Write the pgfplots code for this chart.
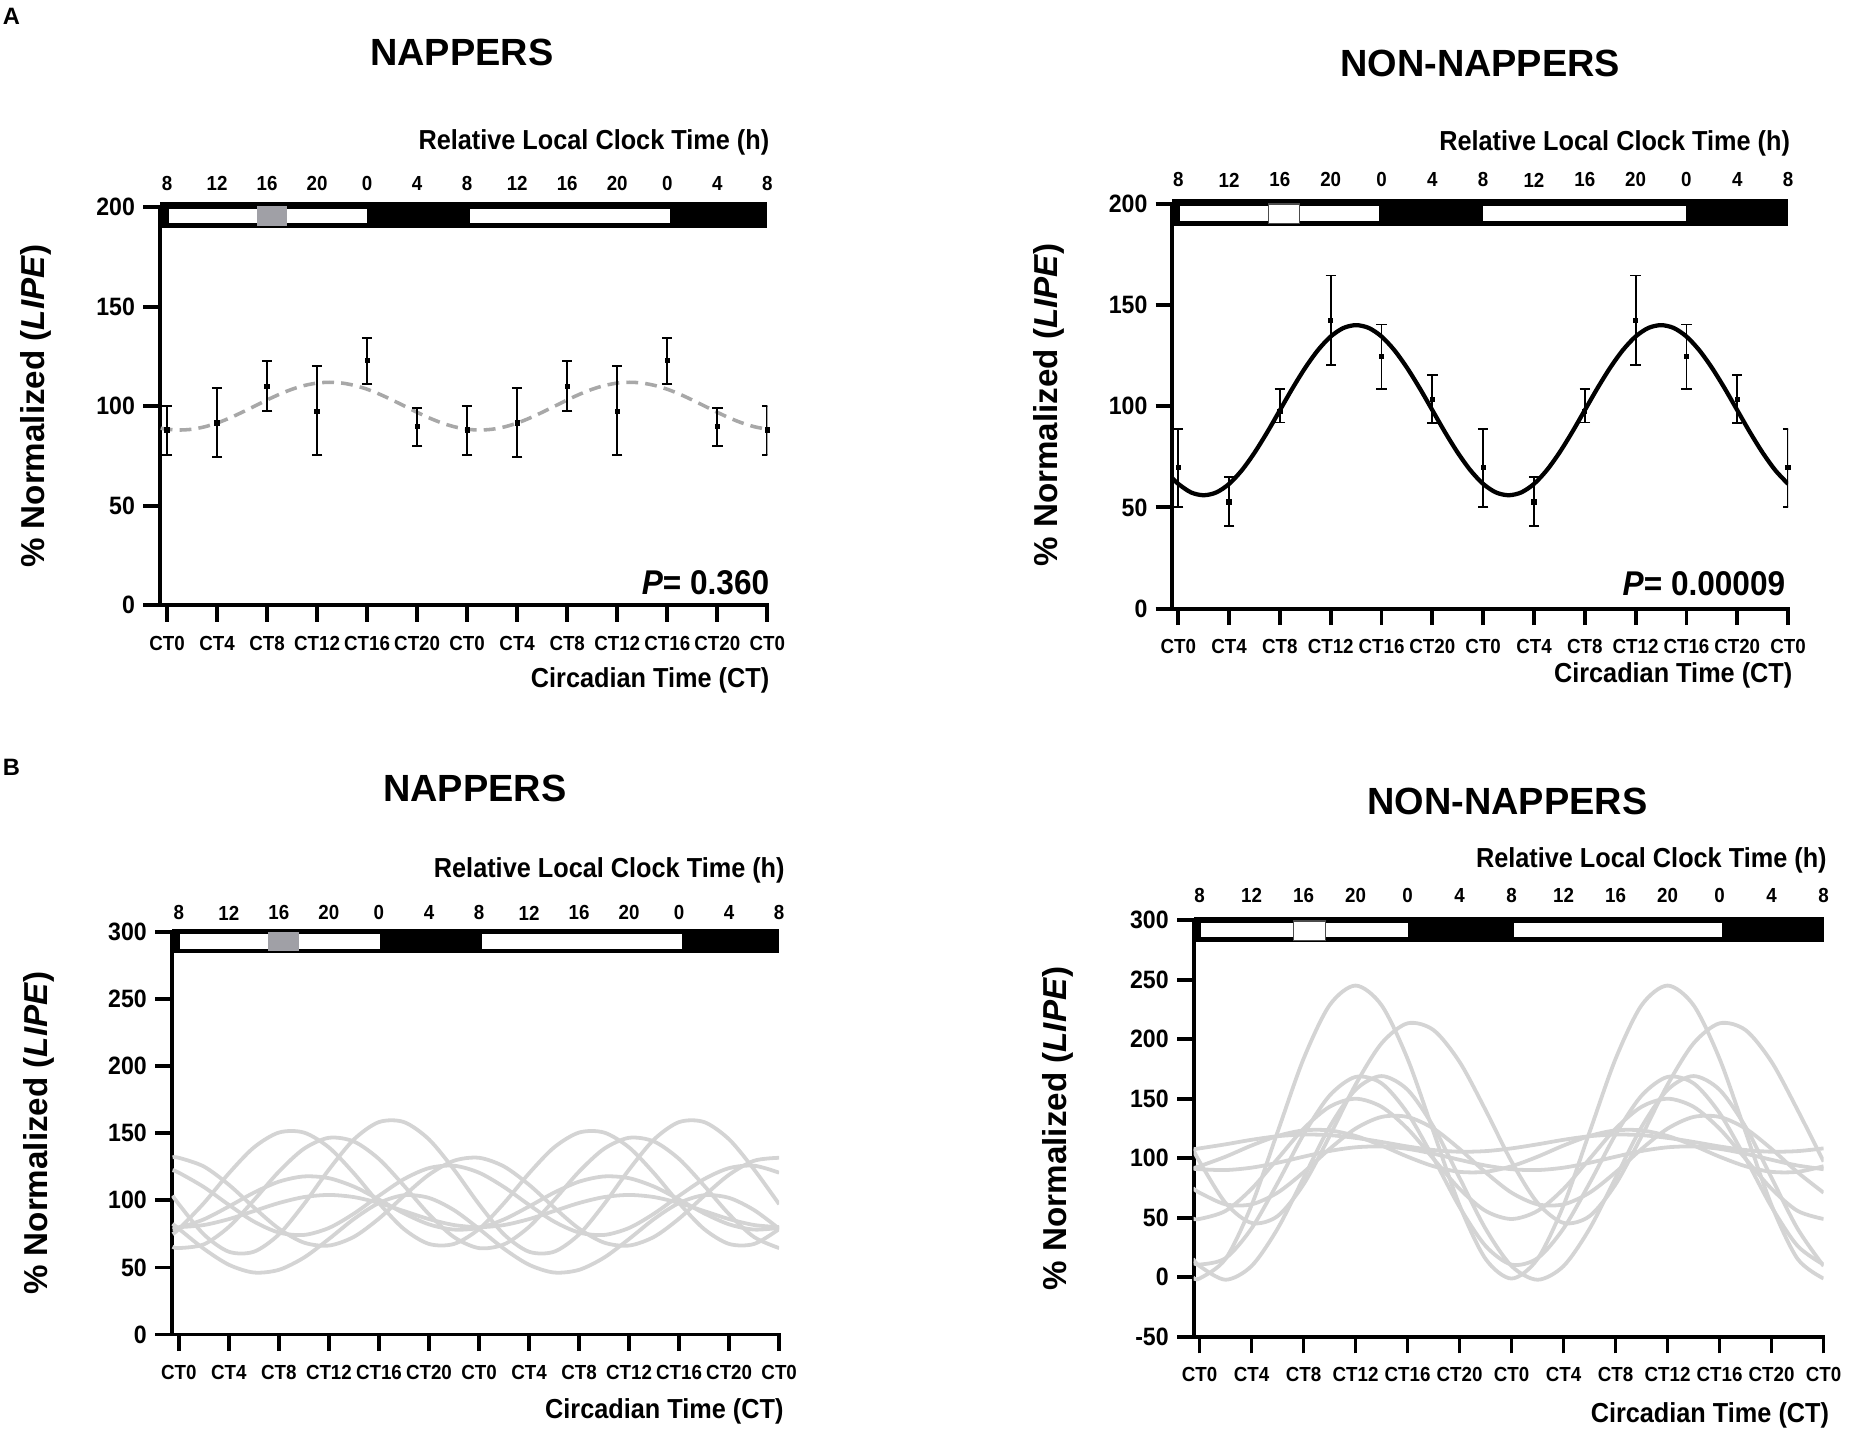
\documentclass[border=0pt]{standalone}
\usepackage{pgfplots}
\usepackage{pgfplotstable}
\pgfplotsset{compat=1.18}
\usepackage{fontspec}
\setmainfont{Liberation Sans}
\newfontfamily\cond[FakeStretch=0.92]{Liberation Sans}

\definecolor{fitgray}{RGB}{168,168,168}
\definecolor{indgray}{RGB}{212,212,212}
\definecolor{boxgray}{RGB}{160,160,166}

\pgfplotsset{
  circ/.style={
    scale only axis,
    anchor=south west,
    axis lines*=left,
    axis line style={line width=1.6pt, line cap=rect},
    tick align=outside,
    major tick length=7pt,
    tick style={line width=1.6pt, black},
    xmax=48,
    xtick={0,4,...,48},
    xticklabels={CT0,CT4,CT8,CT12,CT16,CT20,CT0,CT4,CT8,CT12,CT16,CT20,CT0},
    xticklabel style={font=\cond\bfseries\fontsize{8.6}{10}\selectfont, yshift=-2.5pt},
    yticklabel style={font=\cond\bfseries\fontsize{10.6}{12}\selectfont},
    clip mode=individual,
    /pgf/number format/assume math mode=true,
  },
  errb/.style={black, only marks, mark=square*, mark size=0.9pt,
    error bars/.cd, y dir=both, y explicit,
    error bar style={line width=0.75pt},
    error mark options={rotate=90, mark size=2.2pt, line width=0.75pt}},
  indiv/.style={indgray, line width=1.6pt, smooth, no marks},
}
\tikzset{tl/.style={font=\cond\bfseries\fontsize{8.6}{10}\selectfont, anchor=center, inner sep=0pt}}

\newcommand{\toplabels}[2]{%
  \node[tl,yshift=#2] at (axis cs:0,#1) {8};
  \node[tl,yshift=#2] at (axis cs:4,#1) {12};
  \node[tl,yshift=#2] at (axis cs:8,#1) {16};
  \node[tl,yshift=#2] at (axis cs:12,#1) {20};
  \node[tl,yshift=#2] at (axis cs:16,#1) {0};
  \node[tl,yshift=#2] at (axis cs:20,#1) {4};
  \node[tl,yshift=#2] at (axis cs:24,#1) {8};
  \node[tl,yshift=#2] at (axis cs:28,#1) {12};
  \node[tl,yshift=#2] at (axis cs:32,#1) {16};
  \node[tl,yshift=#2] at (axis cs:36,#1) {20};
  \node[tl,yshift=#2] at (axis cs:40,#1) {0};
  \node[tl,yshift=#2] at (axis cs:44,#1) {4};
  \node[tl,yshift=#2] at (axis cs:48,#1) {8};
}

\pgfplotstableread{
t c1 c2 c3 c4 c5 c6 c7 c8
-0.5 74.9 65.4 103.5 82.5 132.0 122.5 78.7 80.1
0 78.6 64.4 97.1 78.8 131.7 120.6 79.5 80.0
2 97.9 67.2 74.6 63.9 125.2 109.9 85.8 81.6
4 120.1 80.2 61.7 52.0 111.6 96.6 95.4 86.0
6 139.4 100.1 61.7 46.2 94.7 84.2 105.7 92.0
8 150.5 121.4 74.6 48.2 78.9 76.0 113.9 98.0
10 150.5 138.4 97.1 57.3 68.5 74.2 117.8 102.4
12 139.4 146.6 122.9 71.2 66.3 79.4 116.5 104.0
14 120.1 143.8 145.4 86.1 72.8 90.1 110.2 102.4
16 97.9 130.8 158.3 98.0 86.4 103.4 100.6 98.0
18 78.6 110.9 158.3 103.8 103.3 115.8 90.3 92.0
20 67.5 89.6 145.4 101.8 119.1 124.0 82.1 86.0
22 67.5 72.6 122.9 92.7 129.5 125.8 78.2 81.6
24 78.6 64.4 97.1 78.8 131.7 120.6 79.5 80.0
26 97.9 67.2 74.6 63.9 125.2 109.9 85.8 81.6
28 120.1 80.2 61.7 52.0 111.6 96.6 95.4 86.0
30 139.4 100.1 61.7 46.2 94.7 84.2 105.7 92.0
32 150.5 121.4 74.6 48.2 78.9 76.0 113.9 98.0
34 150.5 138.4 97.1 57.3 68.5 74.2 117.8 102.4
36 139.4 146.6 122.9 71.2 66.3 79.4 116.5 104.0
38 120.1 143.8 145.4 86.1 72.8 90.1 110.2 102.4
40 97.9 130.8 158.3 98.0 86.4 103.4 100.6 98.0
42 78.6 110.9 158.3 103.8 103.3 115.8 90.3 92.0
44 67.5 89.6 145.4 101.8 119.1 124.0 82.1 86.0
46 67.5 72.6 122.9 92.7 129.5 125.8 78.2 81.6
48 78.6 64.4 97.1 78.8 131.7 120.6 79.5 80.0
}\tabBL

\pgfplotstableread{
t d1 d2 d3 d4 d5 d6 d7 d8 d9
-0.5 0.1 107.6 15.7 12.7 49.4 74.9 91.7 91.3 107.5
0 -1.0 97.2 9.5 10.7 49.0 71.1 93.3 90.8 108.3
2 15.5 62.5 -2.0 16.1 55.8 61.3 101.3 90.1 111.7
4 60.5 45.7 9.5 41.1 74.3 61.3 110.7 92.1 115.5
6 122.0 51.4 40.8 79.1 99.5 71.1 118.7 96.2 118.5
8 183.5 78.1 83.5 119.9 124.8 88.2 123.4 101.3 119.9
10 228.5 118.5 126.3 152.6 143.2 107.8 123.4 106.1 119.4
12 245.0 161.8 157.5 168.3 150.0 124.9 118.7 109.2 117.1
14 228.5 196.5 169.0 162.9 143.2 134.7 110.7 109.9 113.7
16 183.5 213.3 157.5 137.9 124.8 134.7 101.3 107.9 109.9
18 122.0 207.6 126.3 99.9 99.5 124.9 93.3 103.8 106.9
20 60.5 180.9 83.5 59.1 74.3 107.8 88.6 98.7 105.5
22 15.5 140.5 40.8 26.4 55.8 88.2 88.6 93.9 106.0
24 -1.0 97.2 9.5 10.7 49.0 71.1 93.3 90.8 108.3
26 15.5 62.5 -2.0 16.1 55.8 61.3 101.3 90.1 111.7
28 60.5 45.7 9.5 41.1 74.3 61.3 110.7 92.1 115.5
30 122.0 51.4 40.8 79.1 99.5 71.1 118.7 96.2 118.5
32 183.5 78.1 83.5 119.9 124.8 88.2 123.4 101.3 119.9
34 228.5 118.5 126.3 152.6 143.2 107.8 123.4 106.1 119.4
36 245.0 161.8 157.5 168.3 150.0 124.9 118.7 109.2 117.1
38 228.5 196.5 169.0 162.9 143.2 134.7 110.7 109.9 113.7
40 183.5 213.3 157.5 137.9 124.8 134.7 101.3 107.9 109.9
42 122.0 207.6 126.3 99.9 99.5 124.9 93.3 103.8 106.9
44 60.5 180.9 83.5 59.1 74.3 107.8 88.6 98.7 105.5
46 15.5 140.5 40.8 26.4 55.8 88.2 88.6 93.9 106.0
48 -1.0 97.2 9.5 10.7 49.0 71.1 93.3 90.8 108.3
}\tabBR

\begin{document}
\begin{tikzpicture}
\path[use as bounding box] (0,0) rectangle (782pt,605pt);

% ---------------- A: NAPPERS ----------------
\begin{axis}[circ, at={(67.5pt,349.5pt)}, width=256.5pt, height=168pt,
  xmin=-0.57, ymin=0, ymax=200, ytick={0,50,...,200}, yticklabels={0,50,100,150,200}]
\addplot[fitgray, line width=1.5pt, dash pattern=on 5pt off 3pt, smooth] coordinates {
(-0.5,88.9)(0,88.4)(1,88.0)(2,88.4)(3,89.6)(4,91.5)(5,94.0)(6,96.9)(7,100.0)(8,103.1)(9,106.0)(10,108.5)(11,110.4)(12,111.6)(13,112.0)(14,111.6)(15,110.4)(16,108.5)(17,106.0)(18,103.1)(19,100.0)(20,96.9)(21,94.0)(22,91.5)(23,89.6)(24,88.4)(25,88.0)(26,88.4)(27,89.6)(28,91.5)(29,94.0)(30,96.9)(31,100.0)(32,103.1)(33,106.0)(34,108.5)(35,110.4)(36,111.6)(37,112.0)(38,111.6)(39,110.4)(40,108.5)(41,106.0)(42,103.1)(43,100.0)(44,96.9)(45,94.0)(46,91.5)(47,89.6)(48,88.4)};
\addplot[errb] coordinates {
(0,88) += (0,12) -= (0,12.5)
(4,91.6) += (0,17.4) -= (0,17)
(8,110) += (0,12.6) -= (0,12.5)
(12,97.5) += (0,22.5) -= (0,22)
(16,122.8) += (0,11.6) -= (0,11.8)
(20,89.7) += (0,9.5) -= (0,9.7)
(24,88) += (0,12) -= (0,12.5)
(28,91.6) += (0,17.4) -= (0,17)
(32,110) += (0,12.6) -= (0,12.5)
(36,97.5) += (0,22.5) -= (0,22)
(40,122.8) += (0,11.6) -= (0,11.8)
(44,89.7) += (0,9.5) -= (0,9.7)
(48,88) += (0,12) -= (0,12.5)};
\fill[black] (axis cs:-0.57,189.5) rectangle (axis cs:48,202.5);
\fill[white] (axis cs:0.2,192) rectangle (axis cs:16,199);
\fill[white] (axis cs:24.2,192) rectangle (axis cs:40.2,199);
\fill[boxgray] (axis cs:7.2,190.5) rectangle (axis cs:9.6,200.5);
\toplabels{200}{10pt}
\end{axis}

% ---------------- A: NON-NAPPERS ----------------
\begin{axis}[circ, at={(495pt,348pt)}, width=260pt, height=171pt,
  xmin=-0.47, ymin=0, ymax=200, ytick={0,50,...,200}, yticklabels={0,50,100,150,200}]
\addplot[black, line width=1.8pt, smooth] coordinates {
(-0.5,64.7)(0,61.6)(1,57.4)(2,56.0)(3,57.4)(4,61.6)(5,68.3)(6,77.0)(7,87.1)(8,98.0)(9,108.9)(10,119.0)(11,127.7)(12,134.4)(13,138.6)(14,140.0)(15,138.6)(16,134.4)(17,127.7)(18,119.0)(19,108.9)(20,98.0)(21,87.1)(22,77.0)(23,68.3)(24,61.6)(25,57.4)(26,56.0)(27,57.4)(28,61.6)(29,68.3)(30,77.0)(31,87.1)(32,98.0)(33,108.9)(34,119.0)(35,127.7)(36,134.4)(37,138.6)(38,140.0)(39,138.6)(40,134.4)(41,127.7)(42,119.0)(43,108.9)(44,98.0)(45,87.1)(46,77.0)(47,68.3)(48,61.6)};
\addplot[errb] coordinates {
(0,69.6) += (0,19.1) -= (0,19.3)
(4,52.7) += (0,12.2) -= (0,11.8)
(8,97.2) += (0,11.2) -= (0,5.3)
(12,142.2) += (0,22.3) -= (0,21.9)
(16,124.4) += (0,15.9) -= (0,16)
(20,103.4) += (0,12) -= (0,11.8)
(24,69.6) += (0,19.1) -= (0,19.3)
(28,52.7) += (0,12.2) -= (0,11.8)
(32,97.2) += (0,11.2) -= (0,5.3)
(36,142.2) += (0,22.3) -= (0,21.9)
(40,124.4) += (0,15.9) -= (0,16)
(44,103.4) += (0,12) -= (0,11.8)
(48,69.6) += (0,19.1) -= (0,19.3)};
\fill[black] (axis cs:-0.47,189) rectangle (axis cs:48,202.5);
\fill[white] (axis cs:0.1,191.6) rectangle (axis cs:15.8,198.7);
\fill[white] (axis cs:24,191.6) rectangle (axis cs:40,198.7);
\filldraw[fill=white, draw=black!70, line width=0.5pt] (axis cs:7.1,190) rectangle (axis cs:9.55,199.8);
\toplabels{200}{10pt}
\end{axis}

% ---------------- B: NAPPERS ----------------
\begin{axis}[circ, at={(72.5pt,41.5pt)}, width=256.5pt, height=170pt,
  xmin=-0.57, ymin=0, ymax=300, ytick={0,50,...,300}, yticklabels={0,50,100,150,200,250,300}]
\addplot[indiv] table[x=t,y=c1] {\tabBL};
\addplot[indiv] table[x=t,y=c2] {\tabBL};
\addplot[indiv] table[x=t,y=c3] {\tabBL};
\addplot[indiv] table[x=t,y=c4] {\tabBL};
\addplot[indiv] table[x=t,y=c5] {\tabBL};
\addplot[indiv] table[x=t,y=c6] {\tabBL};
\addplot[indiv] table[x=t,y=c7] {\tabBL};
\addplot[indiv] table[x=t,y=c8] {\tabBL};
\fill[black] (axis cs:-0.57,284) rectangle (axis cs:48,302);
\fill[white] (axis cs:0.12,287.6) rectangle (axis cs:16.05,298.4);
\fill[white] (axis cs:24.2,287.6) rectangle (axis cs:40.2,298.4);
\fill[boxgray] (axis cs:7.15,285.7) rectangle (axis cs:9.6,300.3);
\toplabels{300}{8pt}
\end{axis}

% ---------------- B: NON-NAPPERS ----------------
\begin{axis}[circ, at={(504pt,40.5pt)}, width=266pt, height=176pt,
  xmin=-0.455, ymin=-50, ymax=300, ytick={-50,0,...,300}, yticklabels={-50,0,50,100,150,200,250,300}]
\addplot[indiv] table[x=t,y=d1] {\tabBR};
\addplot[indiv] table[x=t,y=d2] {\tabBR};
\addplot[indiv] table[x=t,y=d3] {\tabBR};
\addplot[indiv] table[x=t,y=d4] {\tabBR};
\addplot[indiv] table[x=t,y=d5] {\tabBR};
\addplot[indiv] table[x=t,y=d6] {\tabBR};
\addplot[indiv] table[x=t,y=d7] {\tabBR};
\addplot[indiv] table[x=t,y=d8] {\tabBR};
\addplot[indiv] table[x=t,y=d9] {\tabBR};
\fill[black] (axis cs:-0.455,281.3) rectangle (axis cs:48,303);
\fill[white] (axis cs:0.1,285.6) rectangle (axis cs:16,297.5);
\fill[white] (axis cs:24.15,285.6) rectangle (axis cs:40.2,297.5);
\filldraw[fill=white, draw=black!70, line width=0.5pt] (axis cs:7.25,282.7) rectangle (axis cs:9.7,299.3);
\toplabels{300}{10.5pt}
\end{axis}

% ---------------- texts outside axes ----------------
\tikzset{ttl/.style={font=\bfseries\fontsize{16}{19}\selectfont, inner sep=0pt},
  ylab/.style={font=\bfseries\fontsize{14}{17}\selectfont, rotate=90, inner sep=0pt},
  xlab/.style={font=\cond\bfseries\fontsize{11.6}{13}\selectfont, anchor=east, inner sep=0pt},
  pval/.style={font=\cond\bfseries\fontsize{14.5}{17}\selectfont, anchor=east, inner sep=0pt}}
\node[font=\bfseries\fontsize{10}{12}\selectfont, anchor=west, inner sep=0pt] at (1pt,598pt) {A};
\node[font=\bfseries\fontsize{10}{12}\selectfont, anchor=west, inner sep=0pt] at (1pt,281pt) {B};

\node[ttl] at (195pt,583pt) {NAPPERS};
\node[ttl] at (625pt,578pt) {NON-NAPPERS};
\node[ttl] at (200.5pt,272pt) {NAPPERS};
\node[ttl] at (636.5pt,266.5pt) {NON-NAPPERS};

\node[ylab] at (15pt,433.5pt) {\% Normalized (\textit{LIPE})};
\node[ylab] at (443pt,434pt) {\% Normalized (\textit{LIPE})};
\node[ylab] at (16.5pt,126.5pt) {\% Normalized (\textit{LIPE})};
\node[ylab] at (446.5pt,128.5pt) {\% Normalized (\textit{LIPE})};

\node[xlab] at (325pt,545pt) {Relative Local Clock Time (h)};
\node[xlab] at (756pt,544.5pt) {Relative Local Clock Time (h)};
\node[xlab] at (331.5pt,237.5pt) {Relative Local Clock Time (h)};
\node[xlab] at (771.5pt,241.5pt) {Relative Local Clock Time (h)};

\node[xlab] at (325pt,317.5pt) {Circadian Time (CT)};
\node[xlab] at (757pt,320pt) {Circadian Time (CT)};
\node[xlab] at (331pt,9pt) {Circadian Time (CT)};
\node[xlab] at (772.5pt,7.5pt) {Circadian Time (CT)};

\node[pval] at (325pt,359pt) {\textit{P}= 0.360};
\node[pval] at (754pt,358.5pt) {\textit{P}= 0.00009};
\end{tikzpicture}
\end{document}
